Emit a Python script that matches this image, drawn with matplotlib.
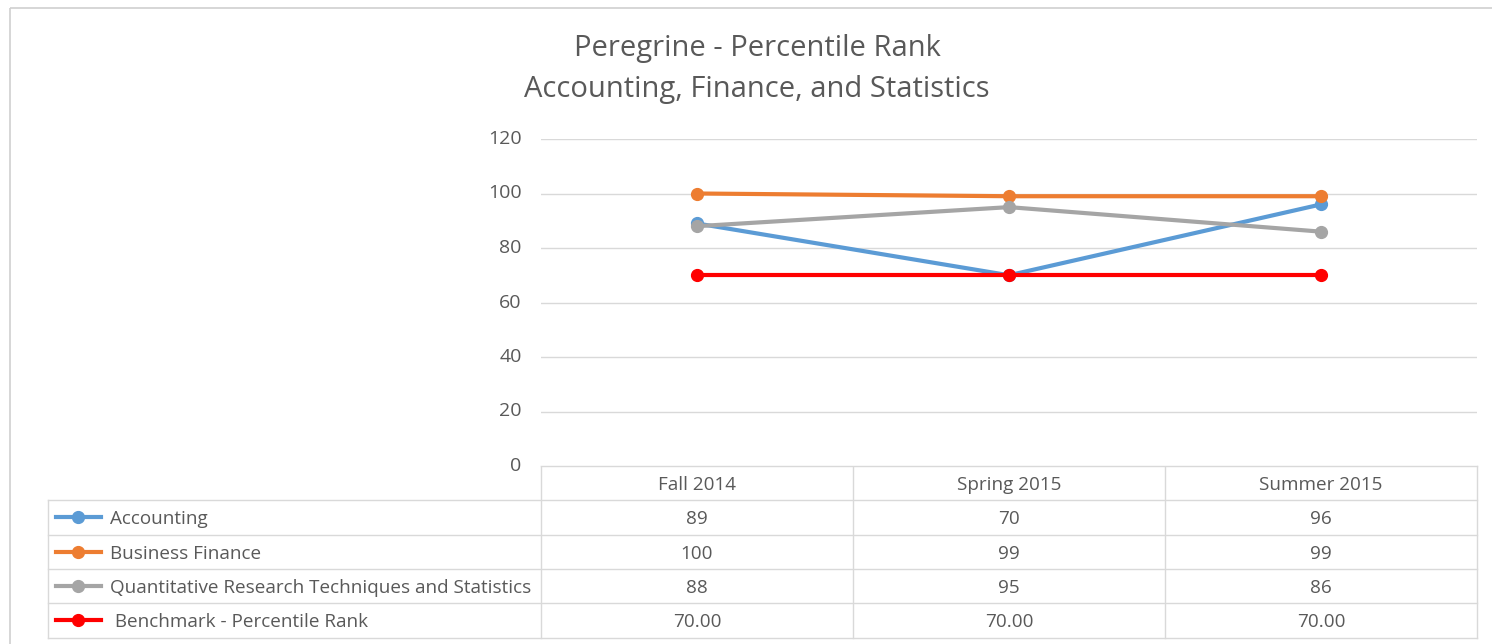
import matplotlib.pyplot as plt
from matplotlib.lines import Line2D
from matplotlib.patches import Rectangle

# data
terms = ["Fall 2014", "Spring 2015", "Summer 2015"]
series_names = ["Accounting", "Business Finance",
                "Quantitative Research Techniques and Statistics",
                " Benchmark - Percentile Rank"]
accounting = [89, 70, 96]
business_finance = [100, 99, 99]
quant_stats = [88, 95, 86]
benchmark = [70.00, 70.00, 70.00]
yticks = [0, 20, 40, 60, 80, 100, 120]

colors = ["#5B9BD5", "#ED7D31", "#A5A5A5", "#FF0000"]
all_series = [accounting, business_finance, quant_stats, benchmark]
fmts = ["{:.0f}", "{:.0f}", "{:.0f}", "{:.2f}"]

plt.rcParams['font.family'] = ['Open Sans', 'DejaVu Sans']
txt = "#595959"
grid = "#D9D9D9"
fs = 13.6

W, H = 1492, 644
fig = plt.figure(figsize=(W / 100, H / 100), dpi=100)

# pixel layout
pl, pr, pt, pb = 541, 1477, 139, 466
ax = fig.add_axes([pl / W, 1 - pb / H, (pr - pl) / W, (pb - pt) / H])
for i, s in enumerate(all_series):
    ax.plot(range(len(terms)), s, color=colors[i], lw=3, marker='o',
            markersize=8.5, solid_capstyle='round', zorder=3 + i)
ax.set_xlim(-0.5, len(terms) - 0.5)
ax.set_ylim(0, 120)
ax.set_yticks(yticks)
ax.set_xticks([])
ax.yaxis.grid(True, color=grid, lw=1)
ax.set_axisbelow(True)
for sp in ax.spines.values():
    sp.set_visible(False)
ax.tick_params(axis='y', length=0, pad=14, labelsize=14, labelcolor=txt)
for lab in ax.get_yticklabels():
    lab.set_verticalalignment('center')

# overlay in pixel coords for table, title and frame
ov = fig.add_axes([0, 0, 1, 1], zorder=-1)
ov.set_xlim(0, W)
ov.set_ylim(H, 0)
ov.axis('off')
ov.add_patch(Rectangle((10, 8), W, H, fill=False, edgecolor="#D0D0D0", lw=1.2))

ov.text(757, 48, "Peregrine - Percentile Rank", ha='center', va='center',
        fontsize=21, color=txt)
ov.text(757, 89, "Accounting, Finance, and Statistics", ha='center', va='center',
        fontsize=21, color=txt)

# data table
tl = 48
row_h = 34.3
col_w = (pr - pl) / len(terms)
rows_top = pb + row_h
nrows = len(series_names)
bottom = rows_top + nrows * row_h
# header
ov.plot([pl, pr], [pb, pb], color=grid, lw=1)
for j in range(len(terms) + 1):
    x = pl + j * col_w
    ov.plot([x, x], [pb, bottom], color=grid, lw=1)
for j, t in enumerate(terms):
    ov.text(pl + (j + 0.5) * col_w, pb + row_h / 2 + 2, t, ha='center',
            va='center', fontsize=fs, color=txt)
for r in range(nrows + 1):
    y = rows_top + r * row_h
    ov.plot([tl, pr], [y, y], color=grid, lw=1)
ov.plot([tl, tl], [rows_top, bottom], color=grid, lw=1)
for r, name in enumerate(series_names):
    yc = rows_top + (r + 0.5) * row_h
    ov.add_line(Line2D([56, 101], [yc, yc], color=colors[r], lw=3))
    ov.plot([78], [yc], marker='o', color=colors[r], markersize=8.5)
    ov.text(110, yc + 2, name, ha='left', va='center', fontsize=fs, color=txt)
    for j in range(len(terms)):
        ov.text(pl + (j + 0.5) * col_w, yc + 2, fmts[r].format(all_series[r][j]),
                ha='center', va='center', fontsize=fs, color=txt)

fig.savefig("out.png", dpi=100)
